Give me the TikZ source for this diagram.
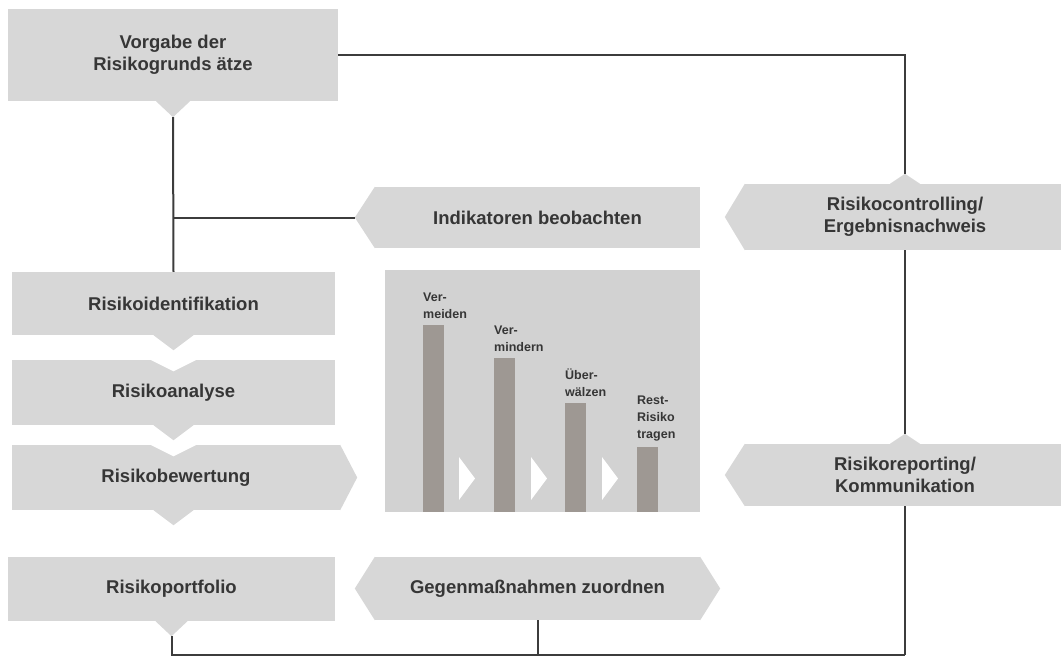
\documentclass[tikz,border=0pt]{standalone}
\usepackage{fontspec}
\setmainfont{Liberation Sans}
\usetikzlibrary{calc}

\definecolor{boxgray}{HTML}{D7D7D7}
\definecolor{chartgray}{HTML}{D2D2D2}
\definecolor{bargray}{HTML}{9E9893}
\definecolor{txtgray}{HTML}{363636}
\definecolor{linegray}{HTML}{3C3C3C}

\tikzset{
    box/.style={fill=boxgray, inner sep=0pt, align=center, text=txtgray,
        font=\bfseries\fontsize{18.5}{22}\selectfont},
    tipfill/.style={fill=boxgray},
    link/.style={draw=linegray, line width=2pt},
    barlabel/.style={anchor=south west, inner sep=0pt, align=left, text=txtgray,
        font=\bfseries\fontsize{12.5}{17}\selectfont},
}

\begin{document}
\begin{tikzpicture}[x=1pt, y=-1pt]
    \useasboundingbox (0,0) rectangle (1061,657);

    % Main boxes
    \node[box, minimum width=330, minimum height=92] (vorgabe) at (173,55) {Vorgabe der\\Risikogrunds ätze};
    \node[box, minimum width=323, minimum height=63] (ident) at (173.5,303.5) {Risikoidentifikation};
    \node[box, minimum width=323, minimum height=65] (analyse) at (173.5,392.5) {Risikoanalyse};
    \node[box, minimum width=328, minimum height=65] (bewert) at (176,477.5) {Risikobewertung};
    \node[box, minimum width=327, minimum height=64] (portfolio) at (171.5,589) {Risikoportfolio};
    \node[box, minimum width=325, minimum height=61] (indik) at (537.5,217.5) {Indikatoren beobachten};
    \node[box, minimum width=325, minimum height=63] (gegen) at (537.5,588.5) {Gegenmaßnahmen zuordnen};
    \node[box, minimum width=320, minimum height=66] (control) at (905,217) {Risikocontrolling/\\Ergebnisnachweis};
    \node[box, minimum width=320, minimum height=62] (report) at (905,475) {Risikoreporting/\\Kommunikation};

    % Tips pointing down
    \fill[tipfill] (vorgabe.south) ++(-17,0) -- ++(17,16) coordinate (vorgabetip) -- ++(17,-16) -- cycle;
    \fill[tipfill] (ident.south) ++(-20,0) -- ++(20,15) -- ++(20,-15) -- cycle;
    \fill[tipfill] (analyse.south) ++(-20,0) -- ++(20,15) -- ++(20,-15) -- cycle;
    \fill[tipfill] ($(bewert.south)+(-2.5,0)$) ++(-20,0) -- ++(20,15) -- ++(20,-15) -- cycle;
    \fill[tipfill] (portfolio.south) ++(-16,0) -- ++(16,15) coordinate (portfoliotip) -- ++(16,-15) -- cycle;

    % Notches on top
    \fill[white] (analyse.north) ++(-24,-0.5) -- ++(24,12) -- ++(24,-12) -- cycle;
    \fill[white] ($(bewert.north)+(-2.5,0)$) ++(-24,-0.5) -- ++(24,12) -- ++(24,-12) -- cycle;

    % Tips pointing sideways
    \fill[tipfill] (bewert.north east) -- ($(bewert.east)+(17,0)$) -- (bewert.south east) -- cycle;
    \fill[tipfill] (indik.north west) -- ($(indik.west)+(-20,0)$) coordinate (indiktip) -- (indik.south west) -- cycle;
    \fill[tipfill] (gegen.north west) -- ($(gegen.west)+(-20,0)$) -- (gegen.south west) -- cycle;
    \fill[tipfill] (gegen.north east) -- ($(gegen.east)+(20,0)$) -- (gegen.south east) -- cycle;
    \fill[tipfill] (control.north west) -- ($(control.west)+(-20,0)$) -- (control.south west) -- cycle;
    \fill[tipfill] (report.north west) -- ($(report.west)+(-20,0)$) -- (report.south west) -- cycle;

    % Small tips pointing up
    \fill[tipfill] (control.north) ++(-15,0) -- ++(15,-10) coordinate (controltip) -- ++(15,10) -- cycle;
    \fill[tipfill] (report.north) ++(-15,0) -- ++(15,-10) coordinate (reporttip) -- ++(15,10) -- cycle;

    % Chart of counter measures
    \node[fill=chartgray, minimum width=315, minimum height=242, inner sep=0pt] (chart) at (542.5,391) {};
    \foreach \i/\x/\top/\txt in {1/423/325/{Ver-\\meiden}, 2/494/358/{Ver-\\mindern},
                                 3/565/403/{Über-\\wälzen}, 4/637/447/{Rest-\\Risiko\\tragen}} {
        \fill[bargray] (\x,\top) rectangle (\x+21,512);
        \node[barlabel] (lab\i) at (\x,\top-6) {\txt};
    }
    \foreach \x in {459, 531, 602} {
        \fill[white] (\x,457) -- (\x+16,478.5) -- (\x,500) -- cycle;
    }

    % Connectors
    \draw[link] (vorgabe.east) -| (controltip);
    \draw[link] (vorgabetip) -- (ident.north);
    \draw[link] (vorgabetip |- indiktip) -- (indiktip);
    \draw[link] (control.south) -- (reporttip);
    \coordinate (foot) at (905,655);
    \draw[link] (report.south) -- (foot);
    \draw[link] (portfoliotip) |- (foot);
    \draw[link] (gegen.south) -- (gegen.south |- foot);
\end{tikzpicture}
\end{document}
